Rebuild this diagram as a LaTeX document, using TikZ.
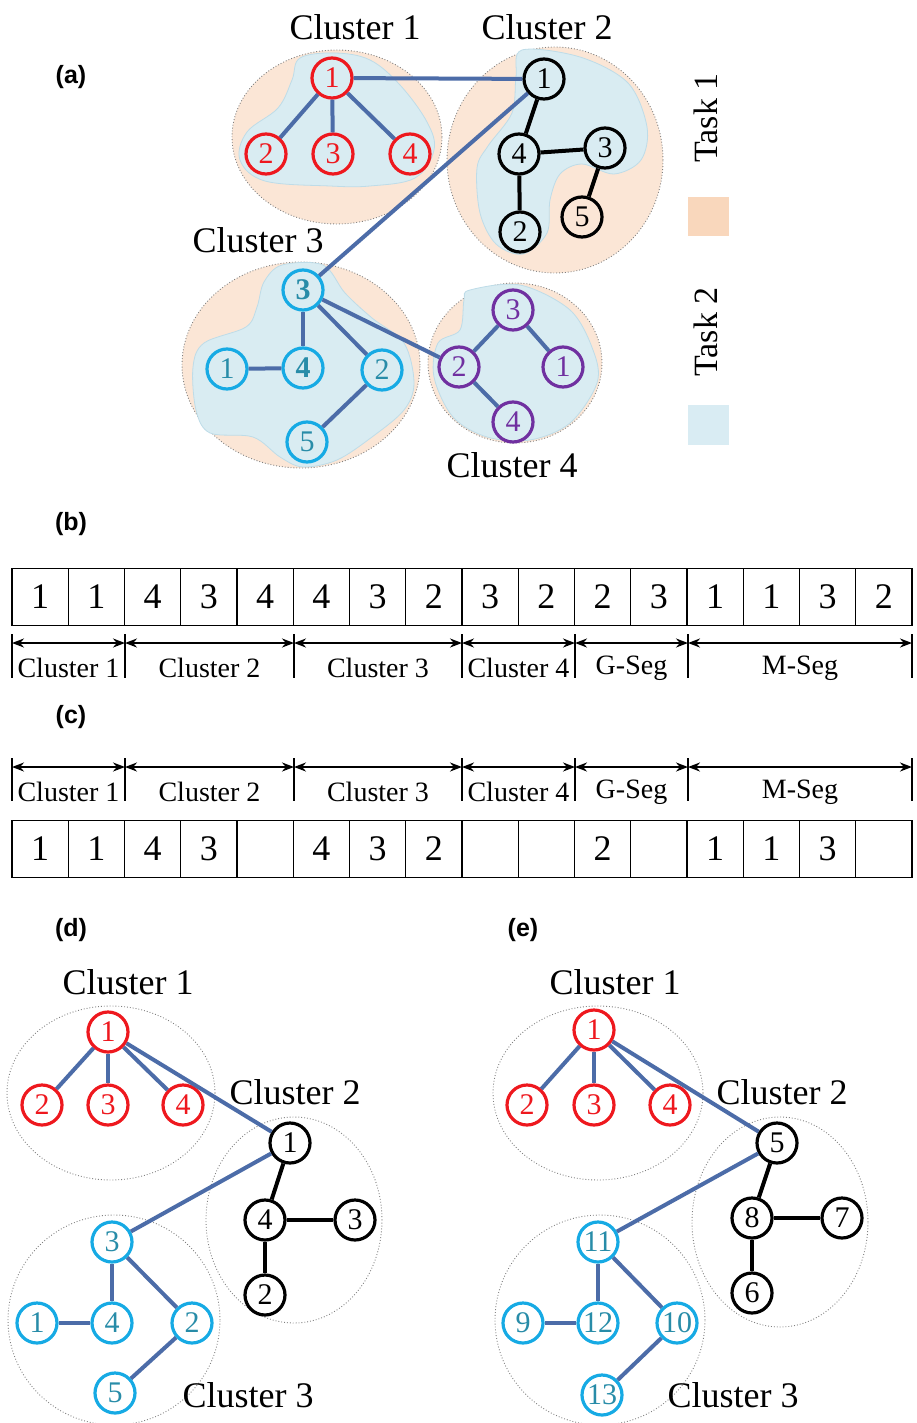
\documentclass[tikz,border=0pt]{standalone}
\usepackage{fontspec}
\setmainfont{Liberation Serif}
\newfontfamily\lblfont{Liberation Sans}
\usetikzlibrary{arrows.meta}
\definecolor{redN}{RGB}{238,24,30}
\definecolor{cyanN}{RGB}{22,170,228}
\definecolor{cyanT}{RGB}{40,140,168}
\definecolor{purpN}{RGB}{112,48,160}
\definecolor{edgeB}{RGB}{76,108,168}
\definecolor{peachF}{RGB}{251,230,214}
\definecolor{blobF}{RGB}{217,236,242}
\definecolor{blobD}{RGB}{190,220,232}
\definecolor{legP}{RGB}{249,215,188}
\definecolor{legB}{RGB}{217,236,243}
\begin{document}
\begin{tikzpicture}[x=1pt,y=-1pt,
  nd/.style={circle,draw,line width=3.2pt,minimum size=40pt,inner sep=0pt,font=\fontsize{30}{31}\selectfont},
  rn/.style={nd,draw=redN,text=redN},
  kn/.style={nd,draw=black,text=black},
  cn/.style={nd,draw=cyanN,text=cyanT},
  pn/.style={nd,draw=purpN,text=purpN},
  be/.style={draw=edgeB,line width=4pt},
  ke/.style={draw=black,line width=4pt},
  clus/.style={draw=gray,dotted,line width=0.9pt},
  blob/.style={fill=blobF,draw=blobD,line width=0.8pt},
  big/.style={font=\fontsize{36}{38}\selectfont},
  mid/.style={font=\fontsize{28}{30}\selectfont},
  plabel/.style={font=\lblfont\bfseries\fontsize{25}{27}\selectfont},
  cell/.style={draw,line width=1.2pt,minimum width=56.25pt,minimum height=57pt,inner sep=0pt,font=\fontsize{36}{38}\selectfont},
  dim/.style={line width=2pt,{Stealth[length=12pt,width=9pt]}-{Stealth[length=12pt,width=9pt]}},
  tick/.style={line width=1.2pt}
]
\useasboundingbox (0,0) rectangle (917,1423);

% ---------------- panel labels
\node[plabel] (la) at (71,77) {(a)};
\node[plabel] (lb) at (71,524) {(b)};
\node[plabel] (lc) at (71,717) {(c)};
\node[plabel] (ld) at (71,930) {(d)};
\node[plabel] (le) at (523,930) {(e)};

% ---------------- panel (a)
\fill[peachF] (337,137) ellipse [x radius=105pt,y radius=87pt];
\draw[clus] (337,137) ellipse [x radius=105pt,y radius=87pt];
\fill[peachF] (555,160) ellipse [x radius=108pt,y radius=113pt];
\draw[clus] (555,160) ellipse [x radius=108pt,y radius=113pt];
\fill[peachF] (301,365) ellipse [x radius=119pt,y radius=103pt];
\draw[clus] (301,365) ellipse [x radius=119pt,y radius=103pt];
\fill[peachF] (515,363) ellipse [x radius=87pt,y radius=80pt];
\draw[clus] (515,363) ellipse [x radius=87pt,y radius=80pt];

\path[blob] plot[smooth cycle,tension=0.6] coordinates {(300,58) (335,53) (370,60) (400,85) (427,122) (434,150) (415,178) (370,186) (330,186) (265,181) (240,160) (247,132) (278,108) (292,80)};
\path[blob] plot[smooth cycle,tension=0.55] coordinates {(522,50) (580,57) (628,83) (647,127) (641,160) (614,174) (582,164) (560,174) (550,200) (547,233) (523,254) (496,244) (480,213) (477,168) (488,146) (512,113) (516,77)};
\path[blob] plot[smooth cycle,tension=0.55] coordinates {(282,265) (323,265) (345,293) (372,318) (404,343) (414,383) (404,410) (372,437) (337,460) (303,467) (280,457) (253,437) (210,433) (196,410) (193,367) (204,343) (246,327) (257,307) (264,282)};
\path[blob] plot[smooth cycle,tension=0.55] coordinates {(470,290) (520,285) (570,310) (593,350) (597,383) (570,423) (530,440) (487,437) (453,417) (434,377) (438,343) (460,330) (464,300)};

\node[big] (a1lab) at (355,27) {Cluster 1};
\node[big] (a2lab) at (547,27) {Cluster 2};
\node[big] (a3lab) at (258,240) {Cluster 3};
\node[big] (a4lab) at (512,465) {Cluster 4};

\node[rn] (a11) at (332,78) {1};
\node[rn] (a12) at (266,154) {2};
\node[rn] (a13) at (333,154) {3};
\node[rn] (a14) at (410,154) {4};
\node[kn] (a21) at (544,79) {1};
\node[kn] (a24) at (519,154) {4};
\node[kn] (a23) at (605,148) {3};
\node[kn] (a25) at (582,217) {5};
\node[kn] (a22) at (520,232) {2};
\node[cn] (a33) at (303,290) {\bfseries 3};
\node[cn] (a34) at (303,368) {\bfseries 4};
\node[cn] (a31) at (227,369) {1};
\node[cn] (a32) at (382,370) {2};
\node[cn] (a35) at (307,442) {5};
\node[pn] (a43) at (513,310) {3};
\node[pn] (a42) at (459,367) {2};
\node[pn] (a41) at (563,367) {1};
\node[pn] (a44) at (513,422) {4};

\draw[be] (a11) -- (a12); \draw[be] (a11) -- (a13); \draw[be] (a11) -- (a14);
\draw[be] (a11) -- (a21);
\draw[be] (a21) -- (a33);
\draw[ke] (a21) -- (a24); \draw[ke] (a24) -- (a23); \draw[ke] (a24) -- (a22); \draw[ke] (a23) -- (a25);
\draw[be] (a33) -- (a34); \draw[be] (a34) -- (a31); \draw[be] (a33) -- (a32); \draw[be] (a32) -- (a35);
\draw[be] (a33) -- (a42);
\draw[be] (a42) -- (a43); \draw[be] (a43) -- (a41); \draw[be] (a42) -- (a44);

% legend
\node[rotate=90,font=\fontsize{34}{36}\selectfont] (t1) at (706,118) {Task 1};
\fill[legP] (688,197) rectangle (729,236);
\node[rotate=90,font=\fontsize{34}{36}\selectfont] (t2) at (706,332) {Task 2};
\fill[legB] (688,405) rectangle (729,445);

% ---------------- panel (b)
\foreach \v [count=\i] in {1,1,4,3,4,4,3,2,3,2,2,3,1,1,3,2}
  \node[cell] (b\i) at ({12+56.25*(\i-0.5)},597) {\v};
\foreach \n/\x in {0/12,1/125,2/294,3/462,4/575,5/688,6/912}{
  \coordinate (bb\n) at (\x,643);
  \draw[tick] (\x,634) -- (\x,678);
}
\draw[dim] (bb0) -- (bb1); \draw[dim] (bb1) -- (bb2); \draw[dim] (bb2) -- (bb3);
\draw[dim] (bb3) -- (bb4); \draw[dim] (bb4) -- (bb5); \draw[dim] (bb5) -- (bb6);
\node[mid] (bl1) at (68.5,668) {Cluster 1};
\node[mid] (bl2) at (209.5,668) {Cluster 2};
\node[mid] (bl3) at (378,668) {Cluster 3};
\node[mid] (bl4) at (518.5,668) {Cluster 4};
\node[mid] (bl5) at (631.5,668) {G-Seg};
\node[mid] (bl6) at (800,668) {M-Seg};

% ---------------- panel (c)
\foreach \n/\x in {0/12,1/125,2/294,3/462,4/575,5/688,6/912}{
  \coordinate (cb\n) at (\x,767);
  \draw[tick] (\x,758) -- (\x,801);
}
\draw[dim] (cb0) -- (cb1); \draw[dim] (cb1) -- (cb2); \draw[dim] (cb2) -- (cb3);
\draw[dim] (cb3) -- (cb4); \draw[dim] (cb4) -- (cb5); \draw[dim] (cb5) -- (cb6);
\node[mid] (cl1) at (68.5,792) {Cluster 1};
\node[mid] (cl2) at (209.5,792) {Cluster 2};
\node[mid] (cl3) at (378,792) {Cluster 3};
\node[mid] (cl4) at (518.5,792) {Cluster 4};
\node[mid] (cl5) at (631.5,792) {G-Seg};
\node[mid] (cl6) at (800,792) {M-Seg};
\foreach \v [count=\i] in {1,1,4,3,{},4,3,2,{},{},2,{},1,1,3,{}}
  \node[cell] (c\i) at ({12+56.25*(\i-0.5)},849) {\v};

% ---------------- panel (d)
\draw[clus] (111,1093) ellipse [x radius=104pt,y radius=87pt];
\draw[clus] (294,1220) ellipse [x radius=88pt,y radius=103pt];
\draw[clus] (114,1320) ellipse [x radius=106pt,y radius=105pt];
\node[big] (d1lab) at (128,982) {Cluster 1};
\node[big] (d2lab) at (295,1092) {Cluster 2};
\node[big] (d3lab) at (248,1395) {Cluster 3};
\node[rn] (d11) at (108,1032) {1};
\node[rn] (d12) at (42,1105) {2};
\node[rn] (d13) at (108,1105) {3};
\node[rn] (d14) at (183,1105) {4};
\node[kn] (d21) at (290,1143) {1};
\node[kn] (d24) at (265,1220) {4};
\node[kn] (d23) at (355,1220) {3};
\node[kn] (d22) at (265,1295) {2};
\node[cn] (d33) at (112,1242) {3};
\node[cn] (d31) at (37,1323) {1};
\node[cn] (d34) at (112,1323) {4};
\node[cn] (d32) at (192,1323) {2};
\node[cn] (d35) at (115,1393) {5};
\draw[be] (d11) -- (d12); \draw[be] (d11) -- (d13); \draw[be] (d11) -- (d14);
\draw[be] (d11) -- (d21);
\draw[be] (d21) -- (d33);
\draw[ke] (d21) -- (d24); \draw[ke] (d24) -- (d23); \draw[ke] (d24) -- (d22);
\draw[be] (d33) -- (d34); \draw[be] (d34) -- (d31); \draw[be] (d33) -- (d32); \draw[be] (d32) -- (d35);

% ---------------- panel (e)
\draw[clus] (598,1093) ellipse [x radius=105pt,y radius=87pt];
\draw[clus] (780,1222) ellipse [x radius=88pt,y radius=105pt];
\draw[clus] (600,1320) ellipse [x radius=105pt,y radius=105pt];
\node[big] (e1lab) at (615,982) {Cluster 1};
\node[big] (e2lab) at (782,1092) {Cluster 2};
\node[big] (e3lab) at (733,1395) {Cluster 3};
\node[rn] (e11) at (594,1030) {1};
\node[rn] (e12) at (527,1105) {2};
\node[rn] (e13) at (594,1105) {3};
\node[rn] (e14) at (670,1105) {4};
\node[kn] (e25) at (777,1143) {5};
\node[kn] (e28) at (752,1218) {8};
\node[kn] (e27) at (842,1218) {7};
\node[kn] (e26) at (752,1293) {6};
\node[cn] (e311) at (598,1242) {11};
\node[cn] (e39) at (523,1323) {9};
\node[cn] (e312) at (598,1323) {12};
\node[cn] (e310) at (677,1323) {10};
\node[cn] (e313) at (602,1395) {13};
\draw[be] (e11) -- (e12); \draw[be] (e11) -- (e13); \draw[be] (e11) -- (e14);
\draw[be] (e11) -- (e25);
\draw[be] (e25) -- (e311);
\draw[ke] (e25) -- (e28); \draw[ke] (e28) -- (e27); \draw[ke] (e28) -- (e26);
\draw[be] (e311) -- (e312); \draw[be] (e312) -- (e39); \draw[be] (e311) -- (e310); \draw[be] (e310) -- (e313);
\end{tikzpicture}
\end{document}
